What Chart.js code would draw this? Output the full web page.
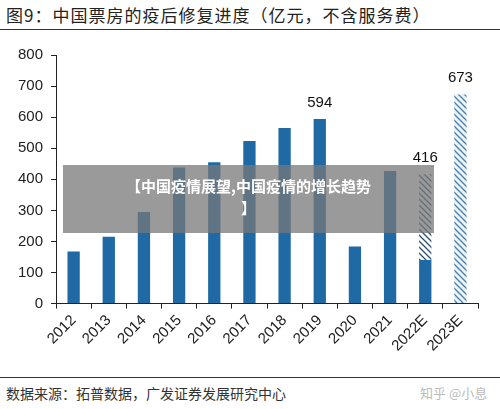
<!DOCTYPE html>
<html><head><meta charset="utf-8">
<script src="https://cdn.jsdelivr.net/npm/chart.js"></script>
<style>
body{margin:0;width:500px;height:409px;background:#fff;position:relative;overflow:hidden;font-family:"Noto Sans CJK SC",sans-serif}
#title{position:absolute;left:6px;top:2px;font-size:17px;color:#222;letter-spacing:1px}
#rule1{position:absolute;left:0;top:29px;width:500px;border-top:1.5px solid #333}
#rule2{position:absolute;left:0;top:377px;width:500px;border-top:1.5px solid #333}
#src{position:absolute;left:6px;top:383px;font-size:14px;color:#333;font-family:"Noto Sans CJK SC",serif}
#wm{position:absolute;left:420px;top:383px;font-size:13px;color:#bbb}
#box{position:absolute;left:63px;top:165px;width:371px;height:68px;background:rgba(120,120,120,0.75);color:#fff;font-weight:bold;font-size:15px;text-align:center;line-height:22px;padding-top:10px;box-sizing:border-box}
#wrap{position:absolute;left:0;top:38px;width:500px;height:320px}
</style></head><body>
<div id="title">图9：中国票房的疫后修复进度（亿元，不含服务费）</div>
<div id="rule1"></div>
<div id="wrap"><canvas id="c"></canvas></div>
<div id="box">【中国疫情展望,中国疫情的增长趋势<br>】</div>
<div id="rule2"></div>
<div id="src">数据来源：拓普数据，广发证券发展研究中心</div>
<div id="wm">知乎 @小息</div>
<script>
const years = ["2012","2013","2014","2015","2016","2017","2018","2019","2020","2021","2022E","2023E"];
const actual = [168, 215, 295, 438, 455, 523, 565, 594, 184, 427, 140, 0];
const forecastExtra = [0, 0, 0, 0, 0, 0, 0, 0, 0, 0, 276, 673];
const labelled = {7: "594", 10: "416", 11: "673"};
const totals = [168, 215, 295, 438, 455, 523, 565, 594, 184, 427, 416, 673];

function hatch(bg, line) {
  const p = document.createElement("canvas");
  p.width = 6; p.height = 6;
  const g = p.getContext("2d");
  g.fillStyle = bg; g.fillRect(0, 0, 6, 6);
  g.strokeStyle = line; g.lineWidth = 1.3;
  g.beginPath();
  g.moveTo(0, 0); g.lineTo(6, 6);
  g.moveTo(-3, 3); g.lineTo(3, 9);
  g.moveTo(3, -3); g.lineTo(9, 3);
  g.stroke();
  return g.createPattern(p, "repeat");
}
const ctx = document.getElementById("c").getContext("2d");
const blue = "#1f6aa5";
const extraColors = years.map((y, i) => i === 11 ? hatch("#eaf4fa", "#4a7fa8") : hatch("#ffffff", "#2a4f6e"));

const labelPlugin = {
  id: "lbl",
  afterDatasetsDraw(chart) {
    const c = chart.ctx, ys = chart.scales.y, xs = chart.scales.x;
    c.save();
    c.font = "15px Arial"; c.fillStyle = "#111"; c.textAlign = "center";
    for (const i in labelled) {
      c.fillText(labelled[i], xs.getPixelForValue(+i), ys.getPixelForValue(totals[i]) - 12);
    }
    c.restore();
  }
};

new Chart(ctx, {
  type: "bar",
  data: {
    labels: years,
    datasets: [
      { data: actual, backgroundColor: blue, barPercentage: 0.35, categoryPercentage: 1 },
      { data: forecastExtra, backgroundColor: extraColors, barPercentage: 0.35, categoryPercentage: 1 }
    ]
  },
  options: {
    responsive: true, maintainAspectRatio: false, animation: false,
    layout: { padding: { left: 10, right: 22, top: 8, bottom: 0 } },
    plugins: { legend: { display: false }, tooltip: { enabled: false } },
    scales: {
      x: {
        stacked: true,
        grid: { display: true, drawOnChartArea: false, offset: true, color: "#222", tickLength: 5 },
        border: { color: "#222", width: 1 },
        ticks: { color: "#222", font: { size: 15, family: "Arial" }, maxRotation: 45, minRotation: 45 }
      },
      y: {
        stacked: true, min: 0, max: 800,
        grid: { display: true, drawOnChartArea: false, color: "#222", tickLength: 5 },
        border: { color: "#222", width: 1 },
        ticks: { stepSize: 100, color: "#222", font: { size: 15, family: "Arial" }, padding: 8 }
      }
    }
  },
  plugins: [labelPlugin]
});
</script>
</body></html>
